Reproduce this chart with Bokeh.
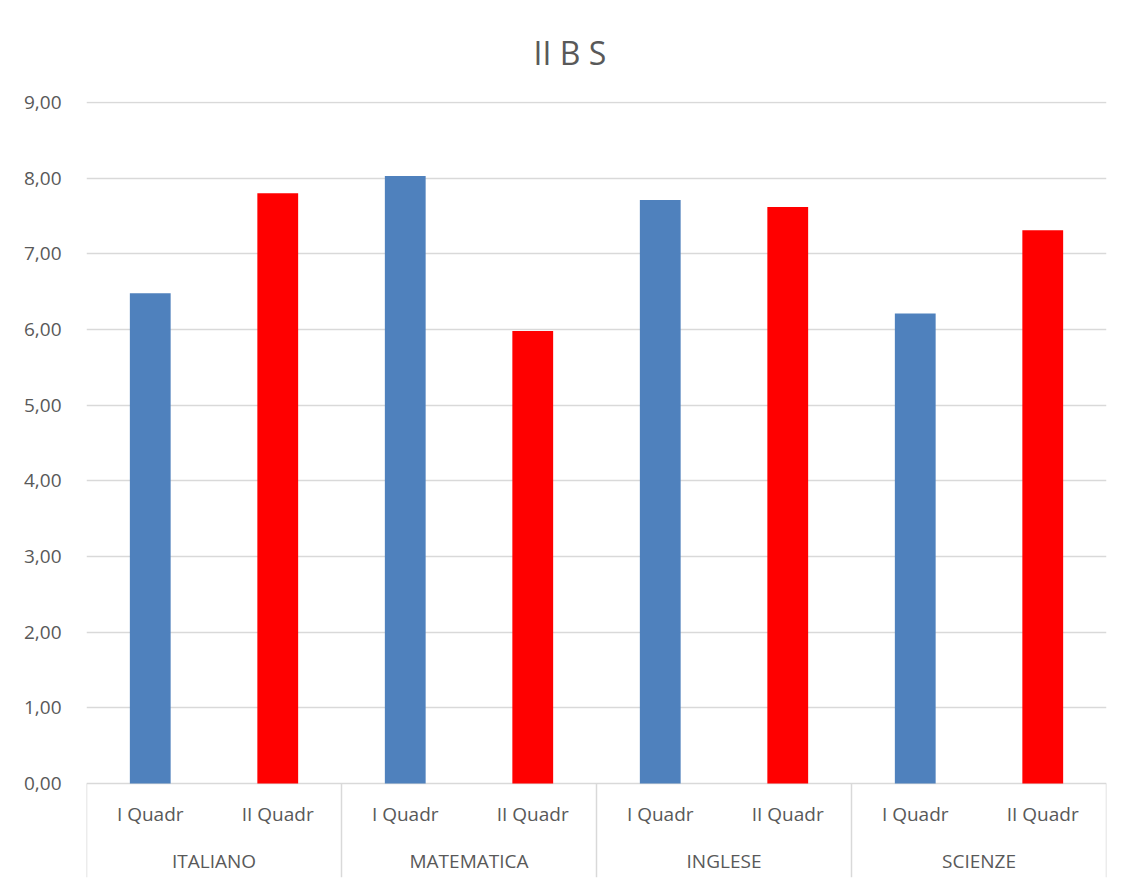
from bokeh.plotting import figure
from bokeh.models import FactorRange, Range1d, ColumnDataSource, CustomJSTickFormatter, Title
from bokeh.core.properties import value
from bokeh.embed import file_html
from bokeh.resources import INLINE

# ---- data ----
subjects = ["ITALIANO", "MATEMATICA", "INGLESE", "SCIENZE"]
periods = ["I Quadr", "II Quadr"]
q1_values = [6.48, 8.03, 7.71, 6.21]
q2_values = [7.80, 5.98, 7.62, 7.31]
y_ticks = [0, 1, 2, 3, 4, 5, 6, 7, 8, 9]
series_colors = ["#4F81BD", "#FF0000"]
title_text = "II B S"

FONT = "Open Sans"
TXT = "#595959"
GRID = "#D9D9D9"

factors = [(s, p) for s in subjects for p in periods]
vals = []
cols = []
for a, b in zip(q1_values, q2_values):
    vals += [a, b]
    cols += series_colors
src = ColumnDataSource(dict(x=factors, top=vals, color=cols))

x_range = FactorRange(*factors, factor_padding=0, group_padding=0, range_padding=0)
y_range = Range1d(-1.242, 9.013)

p = figure(x_range=x_range, y_range=y_range, output_backend="svg", toolbar_location=None,
           frame_width=1020, frame_height=776, min_border_left=86, min_border_right=18,
           min_border_top=101, min_border_bottom=4, width=1124, height=881)
p.outline_line_color = None
p.background_fill_color = "white"
p.border_fill_color = "white"

t = Title(text=title_text, align="left", offset=447, text_font=FONT, text_font_size="32px",
          text_font_style="normal", text_color=TXT, standoff=55)
p.add_layout(t, "above")

p.vbar(x="x", top="top", bottom=0, width=0.32, color="color", source=src, line_color=None)

# axis
p.xaxis.visible = False
p.xgrid.visible = False
p.yaxis.ticker = y_ticks
p.yaxis.formatter = CustomJSTickFormatter(code="return tick.toFixed(2).replace('.', ',');")
p.yaxis.axis_line_color = None
p.yaxis.major_tick_line_color = None
p.yaxis.minor_tick_line_color = None
p.yaxis.major_tick_out = 0
p.yaxis.major_label_standoff = 25
p.yaxis.major_label_text_font = FONT
p.yaxis.major_label_text_font_size = "19px"
p.yaxis.major_label_text_color = TXT
p.ygrid.grid_line_color = GRID
p.ygrid.grid_line_width = 1.5

# category separators
sep_x0 = [(s, -1) for s in subjects] + [(subjects[-1], 1)]
p.segment(x0=sep_x0, x1=sep_x0, y0=[0] * len(sep_x0), y1=[y_range.start] * len(sep_x0),
          line_color=GRID, line_width=1.5)

# category labels
p.text(x=factors, y=[0] * len(factors), text=[f[1] for f in factors], y_offset=30,
       text_align="center", text_baseline="middle", text_font=value(FONT),
       text_font_size="19px", text_color=TXT)
p.text(x=subjects, y=[0] * len(subjects), text=subjects, y_offset=77,
       text_align="center", text_baseline="middle", text_font=value(FONT),
       text_font_size="19px", text_color=TXT)

open("out.html", "w").write(file_html(p, INLINE))
